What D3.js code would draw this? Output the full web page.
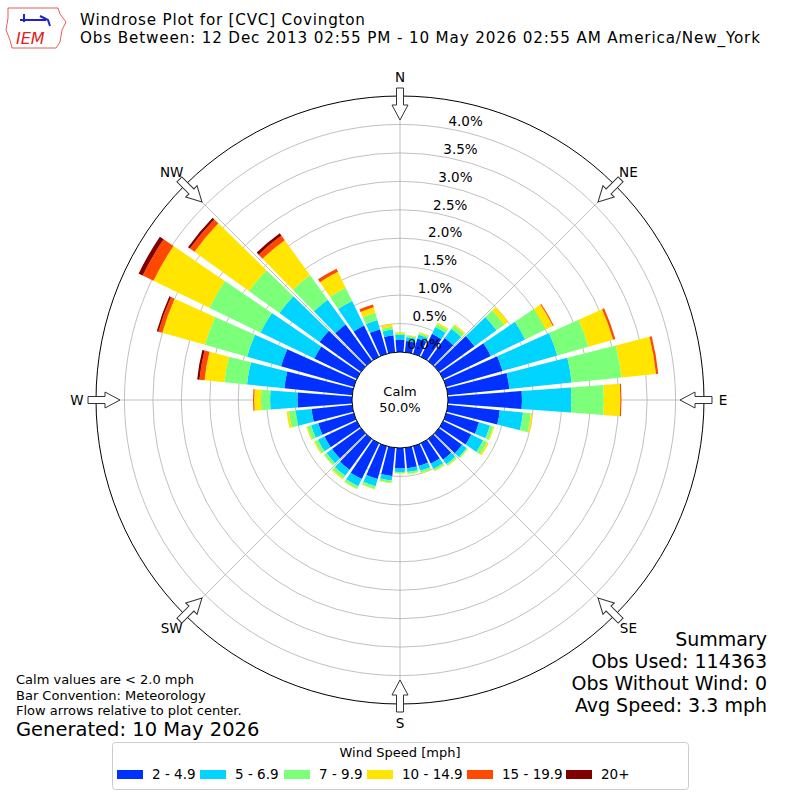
<!DOCTYPE html>
<html><head><meta charset="utf-8">
<script src="https://cdn.jsdelivr.net/npm/d3@7"></script>
<style>body{margin:0;background:#fff}text{font-family:"DejaVu Sans",sans-serif}</style>
</head><body>
<svg width="800" height="800"></svg>
<script>
// direction of each bar (degrees, meteorological)
var directions = d3.range(0, 360, 10);
var binLabels = ["2 - 4.9", "5 - 6.9", "7 - 9.9", "10 - 14.9", "15 - 19.9", "20+"];
var binColors = ["#0031ff", "#00d4ff", "#7cff79", "#ffe500", "#ff4800", "#800000"];
// cumulative percent per direction, one row per speed bin edge
var cum2  = [.22,.20,.28,.45,.50,.77,.93,1.03,1.09,1.30,.92,.60,.55,.50,.45,.40,.36,.36,.36,.50,.60,.70,.67,.63,.63,.65,.72,.96,1.20,1.33,.83,.90,.79,.61,.45,.30];
var cum5  = [.30,.27,.35,.58,.70,1.25,1.60,2.03,2.19,2.17,1.33,.80,.78,.60,.55,.50,.45,.43,.42,.58,.73,.84,.80,.75,.76,.78,1.00,1.44,1.86,1.95,1.88,1.77,1.33,1.09,.62,.40];
var cum7  = [.33,.30,.38,.64,.77,1.42,2.00,2.60,3.07,2.74,1.47,.86,.86,.62,.58,.54,.49,.46,.44,.62,.78,.89,.86,.80,.82,.85,1.12,1.60,2.26,2.72,2.88,2.43,1.86,1.35,.75,.45];
var cum10 = [.35,.31,.40,.67,.80,1.50,2.14,3.05,3.68,3.03,1.50,.88,.89,.63,.59,.55,.50,.47,.45,.63,.79,.90,.88,.81,.84,.87,1.16,1.72,2.61,3.50,3.97,3.61,2.62,1.66,.85,.50];
var cum15 = [.35,.31,.40,.67,.80,1.50,2.16,3.09,3.72,3.05,1.50,.88,.89,.63,.59,.55,.50,.47,.45,.63,.79,.90,.88,.81,.84,.87,1.16,1.74,2.70,3.57,4.18,3.71,2.72,1.72,.90,.50];
var cum20 = [.35,.31,.40,.67,.80,1.50,2.16,3.09,3.72,3.05,1.50,.88,.89,.63,.59,.55,.50,.47,.45,.63,.79,.90,.88,.81,.84,.87,1.16,1.74,2.74,3.60,4.26,3.75,2.77,1.72,.90,.50];
var rTicks = [0, 0.5, 1, 1.5, 2, 2.5, 3, 3.5, 4];
var compass = ["N", "NE", "E", "SE", "S", "SW", "W", "NW"];
var summary = ["Summary", "Obs Used: 114363", "Obs Without Wind: 0", "Avg Speed: 3.3 mph"];
var notes = ["Calm values are < 2.0 mph", "Bar Convention: Meteorology", "Flow arrows relative to plot center."];

var cx = 400, cy = 400;
var r = d3.scaleLinear().domain([0, 4.5]).range([48, 304]);
var svg = d3.select("svg");
var g = svg.append("g").attr("transform", "translate(" + cx + "," + cy + ")");

// grid
g.selectAll(".grid").data(rTicks.slice(1)).enter().append("circle")
  .attr("r", d => r(d)).attr("fill", "none").attr("stroke", "#b0b0b0").attr("stroke-width", 0.8);
g.selectAll(".spoke").data(d3.range(0, 360, 45)).enter().append("line")
  .attr("x1", d => r(0) * Math.sin(d * Math.PI / 180)).attr("y1", d => -r(0) * Math.cos(d * Math.PI / 180))
  .attr("x2", d => r(4.5) * Math.sin(d * Math.PI / 180)).attr("y2", d => -r(4.5) * Math.cos(d * Math.PI / 180))
  .attr("stroke", "#b0b0b0").attr("stroke-width", 0.8);

// bars
var layers = [cum2, cum5, cum7, cum10, cum15, cum20];
var half = 4.2 * Math.PI / 180;
layers.forEach(function(arr, k) {
  var prev = k == 0 ? null : layers[k - 1];
  g.selectAll(".b" + k).data(directions).enter().append("path")
    .attr("fill", binColors[k])
    .attr("d", (d, i) => d3.arc()
      .innerRadius(r(prev ? prev[i] : 0)).outerRadius(r(arr[i]))
      .startAngle(d * Math.PI / 180 - half).endAngle(d * Math.PI / 180 + half)());
});

// calm hole and frame
g.append("circle").attr("r", r(0)).attr("fill", "#fff").attr("stroke", "#000").attr("stroke-width", 1);
g.append("circle").attr("r", r(4.5)).attr("fill", "none").attr("stroke", "#000").attr("stroke-width", 1);
g.append("text").attr("text-anchor", "middle").attr("y", -4).attr("font-size", 13).text("Calm");
g.append("text").attr("text-anchor", "middle").attr("y", 12).attr("font-size", 13).text("50.0%");

// radial labels
g.selectAll(".rl").data(rTicks).enter().append("text")
  .attr("x", d => 0.18 * r(d) + 16).attr("y", d => -0.98 * r(d) - 9 + 5)
  .attr("text-anchor", "middle").attr("font-size", 13.5).text(d => d.toFixed(1) + "%");

// compass labels + arrows
g.selectAll(".cl").data(compass).enter().append("text")
  .attr("x", (d, i) => 323 * Math.sin(i * Math.PI / 4))
  .attr("y", (d, i) => -323 * Math.cos(i * Math.PI / 4) + 5)
  .attr("text-anchor", "middle").attr("font-size", 13.5).text(d => d);
g.selectAll(".arr").data(compass).enter().append("path")
  .attr("transform", (d, i) => "rotate(" + (i * 45) + ") translate(0," + (-r(4.5)) + ")")
  .attr("d", "M-3.5,-8 L3.5,-8 L3.5,9 L8,9 L0,24 L-8,9 L-3.5,9 Z")
  .attr("fill", "#fff").attr("stroke", "#333").attr("stroke-width", 1);

// titles
svg.append("text").attr("x", 80).attr("y", 25).attr("font-size", 15.2)
  .attr("textLength", 285).attr("lengthAdjust", "spacing").text("Windrose Plot for [CVC] Covington");
svg.append("text").attr("x", 80).attr("y", 43).attr("font-size", 15.2)
  .attr("textLength", 680).attr("lengthAdjust", "spacing").text("Obs Between: 12 Dec 2013 02:55 PM - 10 May 2026 02:55 AM America/New_York");

// logo
var logo = svg.append("g");
logo.append("path").attr("d", "M8,8 L58,8 L60,14 L66,22 L62,30 L60,42 L56,48 L12,48 L10,40 L6,30 L8,18 Z")
  .attr("fill", "none").attr("stroke", "#d33").attr("stroke-width", 0.8);
logo.append("path").attr("d", "M20,20 L46,20 M24,14 L24,22 M40,16 L48,20 L50,26").attr("stroke", "#22c").attr("stroke-width", 2).attr("fill", "none");
logo.append("text").attr("x", 16).attr("y", 44).attr("font-family", "Liberation Serif").attr("font-style", "italic")
  .attr("font-size", 16).attr("fill", "#d22").text("IEM");

// summary
svg.selectAll(".sum").data(summary).enter().append("text")
  .attr("x", 767).attr("y", (d, i) => 646 + i * 22).attr("text-anchor", "end").attr("font-size", 19).text(d => d);
svg.selectAll(".note").data(notes).enter().append("text")
  .attr("x", 16).attr("y", (d, i) => 684 + i * 15.5).attr("font-size", 13).text(d => d);
svg.append("text").attr("x", 16).attr("y", 736).attr("font-size", 19.5).text("Generated: 10 May 2026");

// legend
var lg = svg.append("g");
lg.append("rect").attr("x", 112.5).attr("y", 742.5).attr("width", 576).attr("height", 47).attr("rx", 3)
  .attr("fill", "#fff").attr("stroke", "#ccc");
lg.append("text").attr("x", 400).attr("y", 757).attr("text-anchor", "middle").attr("font-size", 13).text("Wind Speed [mph]");
var lx = [117, 200, 284, 367, 467, 566];
binLabels.forEach(function(l, k) {
  lg.append("rect").attr("x", lx[k]).attr("y", 770).attr("width", 26).attr("height", 9).attr("fill", binColors[k]);
  lg.append("text").attr("x", lx[k] + 35).attr("y", 779).attr("font-size", 13.5).text(l);
});
</script>
</body></html>
